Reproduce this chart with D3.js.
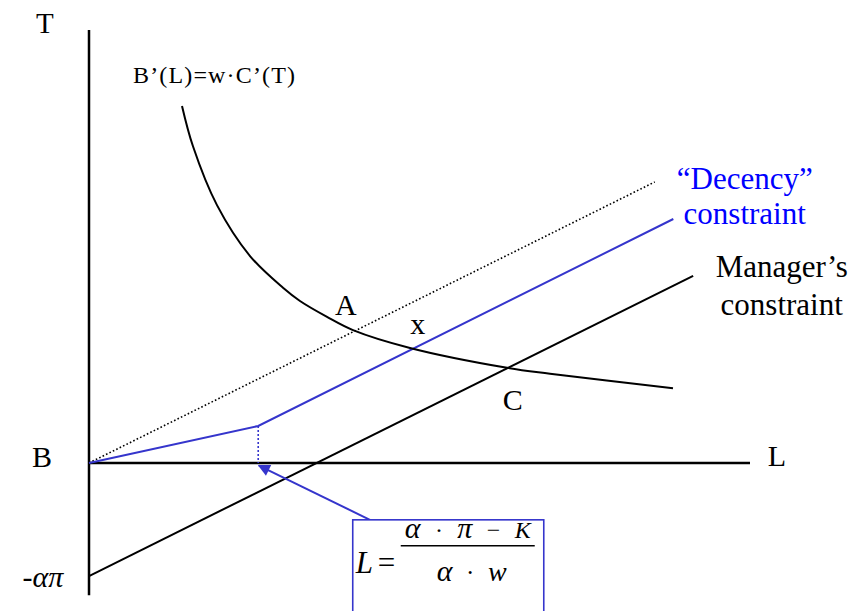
<!DOCTYPE html>
<html>
<head>
<meta charset="utf-8">
<script src="https://cdn.jsdelivr.net/npm/d3@7"></script>
<style>
  body { margin: 0; background: #fff; }
</style>
</head>
<body>
<script>
// all values in chart units (L across, T up)
const axisL = [0, 100];
const axisT = [-20, 65.5];

const dottedLine = [[0, 0], [85.6, 42.5]];
const decencyLine = [[0, 0], [25.6, 5.6], [88.4, 36.9]];
const kinkDrop = [[25.6, 5.6], [25.6, 0]];
const managerLine = [[0, -17.1], [91.4, 28.3]];
const curvePts = [
  [14.07, 54.0], [15.73, 47.9], [19.36, 39.0], [24.36, 31.3], [29.35, 26.5],
  [31.92, 24.5], [36.01, 22.1], [39.94, 20.1], [48.56, 17.4], [63.24, 14.4],
  [69.74, 13.5], [88.35, 11.3]
];
const arrowFromTo = [[42.5, -8.6], [25.7, -0.4]];

const width = 852;
const height = 611;
const blue = '#3535cc';
const serif = '"Liberation Serif", "Times New Roman", serif';

const x = d3.scaleLinear([0, 100], [89, 750]);
const y = d3.scaleLinear([-20, 65], [595.2, 33.2]);

const svg = d3.select('body').append('svg')
  .attr('width', width)
  .attr('height', height)
  .attr('font-family', serif);

svg.append('defs').append('marker')
  .attr('id', 'arr')
  .attr('viewBox', '0 0 10 10')
  .attr('refX', 9).attr('refY', 5)
  .attr('markerWidth', 14).attr('markerHeight', 12)
  .attr('markerUnits', 'userSpaceOnUse')
  .attr('orient', 'auto')
  .append('path')
  .attr('d', 'M0,0 L10,5 L0,10 Z')
  .attr('fill', blue);

const line = d3.line().x(d => x(d[0])).y(d => y(d[1]));
const curve = d3.line().x(d => x(d[0])).y(d => y(d[1])).curve(d3.curveCatmullRom.alpha(0.5));

// axes
svg.append('path').attr('d', line([[0, axisT[0]], [0, axisT[1]]]))
  .attr('stroke', '#000').attr('stroke-width', 2.5).attr('fill', 'none');
svg.append('path').attr('d', line([[0, 0], [axisL[1], 0]]))
  .attr('stroke', '#000').attr('stroke-width', 2.5).attr('fill', 'none');

// dotted line
svg.append('path').attr('d', line(dottedLine))
  .attr('stroke', '#000').attr('stroke-width', 1.6)
  .attr('stroke-dasharray', '1.6,2.2').attr('fill', 'none');

// decency constraint
svg.append('path').attr('d', line(decencyLine))
  .attr('stroke', blue).attr('stroke-width', 2).attr('fill', 'none');
svg.append('path').attr('d', line(kinkDrop))
  .attr('stroke', blue).attr('stroke-width', 1.6)
  .attr('stroke-dasharray', '2,2').attr('fill', 'none');

// manager's constraint
svg.append('path').attr('d', line(managerLine))
  .attr('stroke', '#000').attr('stroke-width', 2).attr('fill', 'none');

// B'(L)=w C'(T) curve
svg.append('path').attr('d', curve(curvePts))
  .attr('stroke', '#000').attr('stroke-width', 2).attr('fill', 'none');

// arrow from box to kink
svg.append('path').attr('d', line(arrowFromTo))
  .attr('stroke', blue).attr('stroke-width', 2).attr('fill', 'none')
  .attr('marker-end', 'url(#arr)');

// labels
function label(u, t, str, opts = {}) {
  return svg.append('text')
    .attr('x', x(u)).attr('y', y(t))
    .attr('font-family', serif)
    .attr('font-size', opts.size || 30)
    .attr('text-anchor', opts.anchor || 'start')
    .attr('fill', opts.color || '#000')
    .text(str);
}

label(-8.0, 65.0, 'T', {size: 29});
label(-5.6, -0.6, 'B', {anchor: 'end'});
label(102.7, -0.45, 'L');
label(37.2, 22.4, 'A');
label(48.6, 19.5, 'x');
label(62.6, 8.0, 'C');
label(6.66, 57.5, 'B’(L)=w·C’(T)', {size: 24})
  .attr('textLength', 162).attr('lengthAdjust', 'spacing');
label(99.2, 41.4, '“Decency”', {size: 31, anchor: 'middle', color: '#0000ff'});
label(99.2, 36.1, 'constraint', {size: 31, anchor: 'middle', color: '#0000ff'});
label(104.8, 28.1, 'Manager’s', {size: 31, anchor: 'middle'});
label(104.8, 22.4, 'constraint', {size: 31, anchor: 'middle'});

const ap = label(-3.9, -18.75, '', {anchor: 'end'});
ap.append('tspan').text('-');
ap.append('tspan').attr('font-style', 'italic').text('απ');

// formula box
const bx0 = x(39.9), bx1 = x(68.8), by0 = y(-8.6);
svg.append('rect')
  .attr('x', bx0).attr('y', by0)
  .attr('width', bx1 - bx0).attr('height', height - by0 + 10)
  .attr('fill', '#fff').attr('stroke', blue).attr('stroke-width', 1.6);

const fx = bx0;
svg.append('text').attr('x', fx + 3).attr('y', by0 + 53)
  .attr('font-size', 31).attr('font-style', 'italic').text('L');
svg.append('text').attr('x', fx + 25).attr('y', by0 + 53)
  .attr('font-size', 31).text('=');
svg.append('line')
  .attr('x1', fx + 48).attr('x2', fx + 182)
  .attr('y1', by0 + 26).attr('y2', by0 + 26)
  .attr('stroke', '#000').attr('stroke-width', 1.5);

const num = svg.append('text').attr('x', fx + 52).attr('y', by0 + 18)
  .attr('font-size', 24)
  .attr('textLength', 126).attr('lengthAdjust', 'spacing');
num.append('tspan').attr('font-style', 'italic').attr('font-size', 30).text('α');
num.append('tspan').text(' · ');
num.append('tspan').attr('font-style', 'italic').attr('font-size', 30).text('π');
num.append('tspan').text(' − ');
num.append('tspan').attr('font-style', 'italic').text('K');

const den = svg.append('text').attr('x', fx + 84).attr('y', by0 + 61)
  .attr('font-size', 25)
  .attr('textLength', 70).attr('lengthAdjust', 'spacing');
den.append('tspan').attr('font-style', 'italic').attr('font-size', 30).text('α');
den.append('tspan').text(' · ');
den.append('tspan').attr('font-style', 'italic').attr('font-size', 28).text('w');
</script>
</body>
</html>
